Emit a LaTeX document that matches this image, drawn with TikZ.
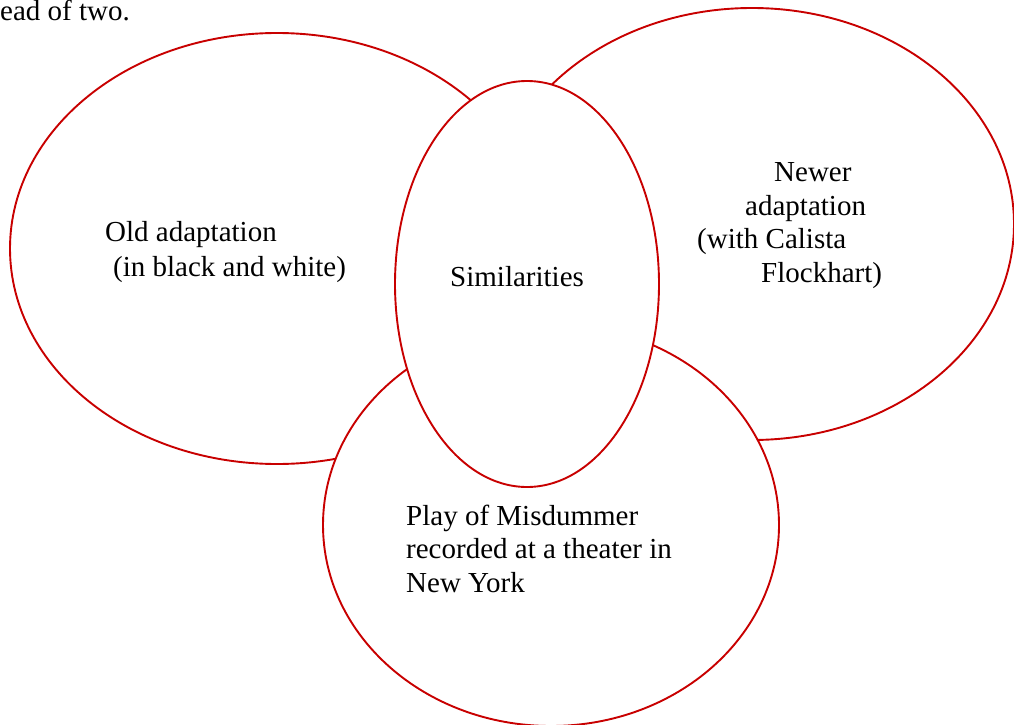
\documentclass[tikz,border=0pt]{standalone}
\usepackage{fontspec}
\setmainfont{Liberation Serif}
\definecolor{vennred}{RGB}{200,0,0}
\tikzset{
  venn/.style={line width=1.9pt, color=vennred},
  venntext/.style={inner sep=0pt, anchor=base west, align=left, font=\fontsize{29}{33.5}\selectfont}
}

\begin{document}
\begin{tikzpicture}[x=1pt, y=-1pt]
			%%%%% START %%%%%
			\useasboundingbox (0, 0) rectangle (1014, 725);
			
			\node[venntext] (cut) at (0, 20.5) {ead of two.};
			
			\draw[venn] (277, 248.5) ellipse [x radius=267pt, y radius=215.5pt];
			\draw[venn] (752, 224) ellipse [x radius=262pt, y radius=216pt];
			\draw[venn, fill=white] (551, 525) ellipse [x radius=228pt, y radius=201pt];
			\draw[venn, fill=white] (527, 284) ellipse [x radius=132pt, y radius=203pt];
			
			% base of a block = baseline of its last line
			\node[venntext] (old) at (105, 276.7) {Old adaptation\\[1.5pt]\hspace*{8pt}(in black and white)};
			\node[venntext] (sim) at (450, 286) {Similarities};
			\node[venntext] (new) at (697, 282) {\hspace*{77pt}Newer\\\hspace*{48pt}adaptation\\(with Calista\\\hspace*{64pt}Flockhart)};
			\node[venntext] (play) at (406, 592) {Play of Misdummer\\recorded at a theater in\\New York};
			
			%%%%% END %%%%%
		\end{tikzpicture}
\end{document}
